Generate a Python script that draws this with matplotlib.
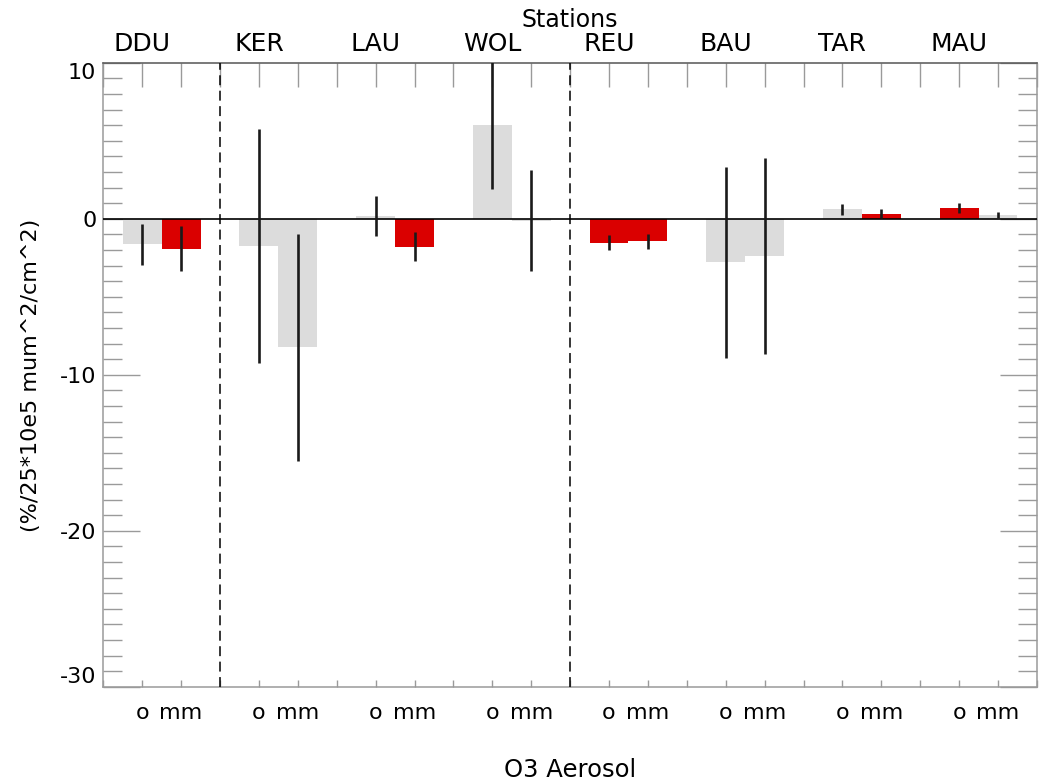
import matplotlib
matplotlib.use('Agg')
import matplotlib.pyplot as plt
import matplotlib.transforms as mtransforms

plt.rcParams['font.family'] = 'DejaVu Sans'
plt.rcParams['axes.unicode_minus'] = False

stations = ['DDU', 'KER', 'LAU', 'WOL', 'REU', 'BAU', 'TAR', 'MAU']
# "o" bars
o_val = [-1.64, -1.76, 0.17, 6.0, -1.55, -2.8, 0.61, 0.68]
o_err = [1.3, 7.5, 1.28, 4.1, 0.48, 6.1, 0.35, 0.32]
o_sig = [False, False, False, False, True, False, False, True]
# "mm" bars
mm_val = [-1.92, -8.25, -1.8, -0.13, -1.44, -2.4, 0.32, 0.23]
mm_err = [1.45, 7.25, 0.94, 3.23, 0.48, 6.3, 0.28, 0.19]
mm_sig = [True, False, True, False, True, False, True, False]
sub_labels = ['o', 'mm']
separators = [3, 12]

red = '#da0000'
grey = '#dcdcdc'
tick_col = '#9a9a9a'

fig = plt.figure(figsize=(10.39, 7.84), dpi=100)
ax = fig.add_axes([103.3 / 1039, 97.3 / 784, 933.6 / 1039, 624 / 784])

n = len(stations)
x_o = [3 * i + 1 for i in range(n)]
x_mm = [3 * i + 2 for i in range(n)]
ekw = dict(ecolor='#1a1a1a', elinewidth=1.9, capsize=0, zorder=4)
ax.bar(x_o, o_val, width=1.0, color=[red if s else grey for s in o_sig],
       yerr=o_err, error_kw=ekw, zorder=2)
ax.bar(x_mm, mm_val, width=1.0, color=[red if s else grey for s in mm_sig],
       yerr=mm_err, error_kw=ekw, zorder=2)

ax.axhline(0, color='black', lw=1.2, zorder=3)
for xs in separators:
    ax.axvline(xs, color='black', lw=1.1, linestyle=(0, (6.5, 3.6)), zorder=3)

ax.set_xlim(0, 3 * n)
ax.set_ylim(-30, 10)

# y axis ticks
ax.set_yticks([-30, -20, -10, 0, 10])
ax.set_yticks(range(-30, 11), minor=True)
ax.tick_params(axis='y', which='major', direction='in', length=26.5, width=1.0,
               color=tick_col, labelsize=16, pad=5, right=True)
ax.tick_params(axis='y', which='minor', direction='in', length=14, width=1.0,
               color=tick_col, right=True)
ylabs = ax.get_yticklabels()
ylabs[0].set_va('bottom')
ylabs[-1].set_va('top')

# x axis ticks
ax.set_xticks(range(0, 3 * n + 1))
xlabels = []
for k in range(3 * n + 1):
    if k % 3 == 1:
        xlabels.append(sub_labels[0])
    elif k % 3 == 2:
        xlabels.append(sub_labels[1])
    else:
        xlabels.append('')
ax.set_xticklabels(xlabels)
ax.tick_params(axis='x', which='major', direction='in', width=1.0, color=tick_col,
               labelsize=16, pad=11.5, top=True, length=5)
for t in ax.xaxis.get_major_ticks():
    t.tick2line.set_markersize(17.3)

for side in ['left', 'right', 'bottom']:
    ax.spines[side].set_color(tick_col)
    ax.spines[side].set_linewidth(1.1)
ax.spines['top'].set_color('#555555')
ax.spines['top'].set_linewidth(1.1)

# station names above the plot
trans = mtransforms.blended_transform_factory(ax.transData, fig.transFigure)
for i, s in enumerate(stations):
    ax.text(x_o[i], (784 - 50.7) / 784, s, transform=trans, ha='center',
            va='baseline', fontsize=18)

fig.text(570 / 1039, (784 - 26.7) / 784, 'Stations', ha='center', va='baseline', fontsize=17)
fig.text(570 / 1039, (784 - 777) / 784, 'O3 Aerosol', ha='center', va='baseline', fontsize=17.5)
fig.text(31 / 1039, 1 - 375 / 784, '(%/25*10e5 mum^2/cm^2)', rotation=90,
         ha='center', va='center', fontsize=16)

fig.savefig('out.png', dpi=100)
